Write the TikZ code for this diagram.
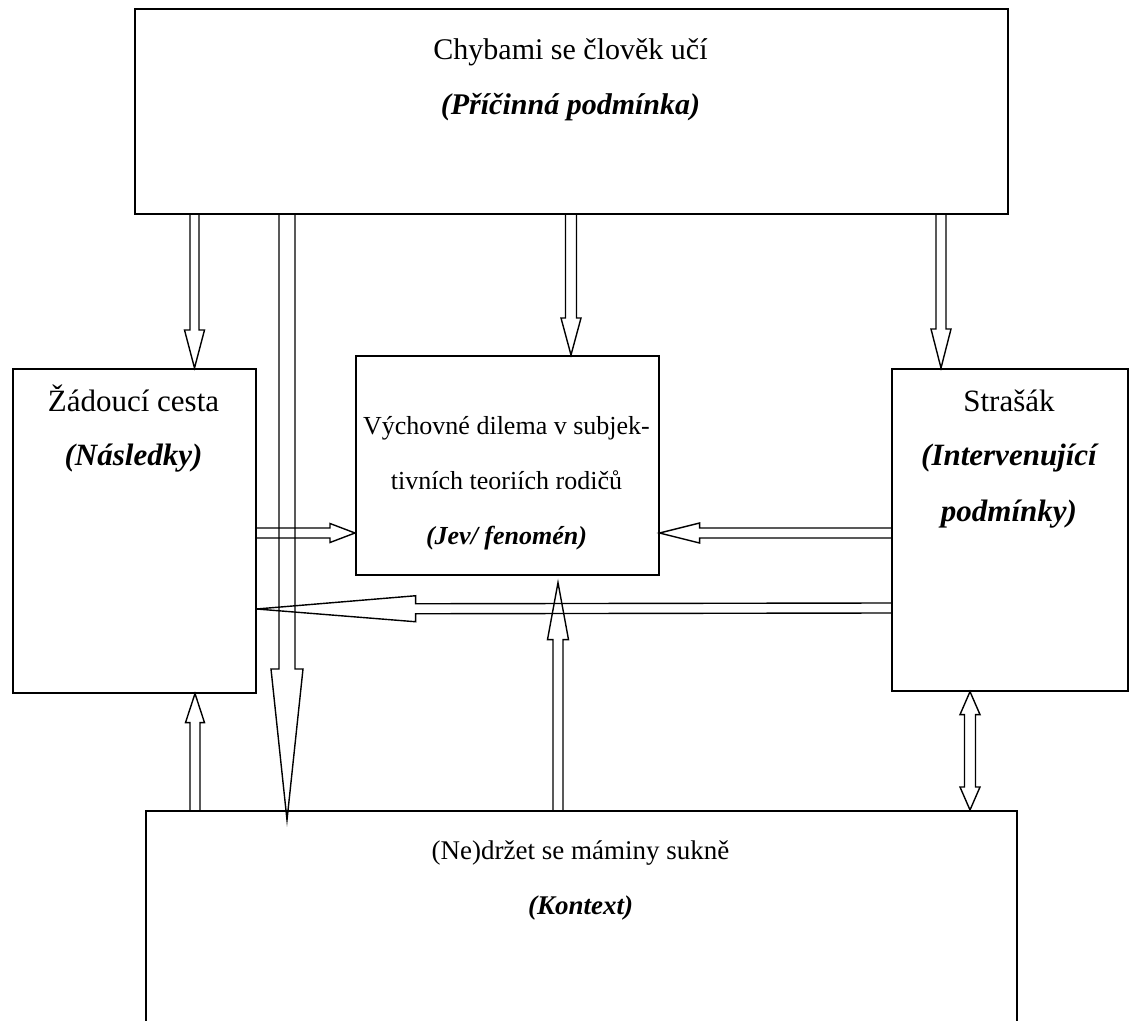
\documentclass[tikz,border=0pt]{standalone}
\usepackage{fontspec}
\setmainfont{Liberation Serif}
\usetikzlibrary{calc}

% hollow block arrow: from, tip, half shaft, half head, head length
\newcommand\blockarrow[5]{%
 \path (#1) coordinate (ba) (#2) coordinate (bb) ($(bb)!#5!(ba)$) coordinate (bh);
 \draw[blockline] ($(ba)!#3!90:(bb)$) -- ($(bh)!#3!90:(bb)$) -- ($(bh)!#4!90:(bb)$) -- (bb)
  -- ($(bh)!#4!-90:(bb)$) -- ($(bh)!#3!-90:(bb)$) -- ($(ba)!#3!-90:(bb)$);}
% same, with a head at both ends
\newcommand\twinarrow[5]{%
 \path (#1) coordinate (ba) (#2) coordinate (bb) ($(ba)!#5!(bb)$) coordinate (ha) ($(bb)!#5!(ba)$) coordinate (hb);
 \draw[blockline] (ba) -- ($(ha)!#4!90:(bb)$) -- ($(ha)!#3!90:(bb)$) -- ($(hb)!#3!90:(bb)$) -- ($(hb)!#4!90:(bb)$) -- (bb)
  -- ($(hb)!#4!-90:(bb)$) -- ($(hb)!#3!-90:(bb)$) -- ($(ha)!#3!-90:(bb)$) -- ($(ha)!#4!-90:(bb)$) -- cycle;}

\begin{document}
\begin{tikzpicture}[x=.5pt,y=-.5pt,
 frame/.style={draw,line width=.8pt,anchor=north west,inner sep=0pt},
 txt/.style={anchor=base,inner sep=0pt,font=\fontsize{#1}{#1}\selectfont},
 txt/.default=15.5,
 tag/.style={anchor=base,inner sep=0pt,font=\fontsize{#1}{#1}\selectfont\bfseries\itshape},
 tag/.default=15.5,
 blockline/.style={line width=.7pt,line join=miter}]
\useasboundingbox (0,0) rectangle (1129,1021);
\clip (0,0) rectangle (1129,1021);

\node[frame,minimum width=436.5pt,minimum height=102.5pt] (caus) at (134,8) {};
\node[frame,minimum width=121.5pt,minimum height=162pt] (cons) at (12,368) {};
\node[frame,minimum width=151.5pt,minimum height=109.5pt] (phen) at (355,355) {};
\node[frame,minimum width=118pt,minimum height=161pt] (interv) at (891,368) {};
\node[frame,minimum width=435.5pt,minimum height=130pt] (ctx) at (145,810) {};

\node[txt=15] (causA) at (570.5,60) {Chybami se člověk učí};
\node[tag=15] (causB) at (570.5,115) {(Příčinná podmínka)};
\node[txt] (consA) at (133.5,411) {Žádoucí cesta};
\node[tag] (consB) at (133.5,466) {(Následky)};
\node[txt=13] (phenA) at (506.5,434) {Výchovné dilema v subjek-};
\node[txt=13] (phenB) at (506.5,489) {tivních teoriích rodičů};
\node[tag=13] (phenC) at (506.5,544) {(Jev/ fenomén)};
\node[txt] (intervA) at (1009,411) {Strašák};
\node[tag] (intervB) at (1009,466) {(Intervenující};
\node[tag] (intervC) at (1009,521) {podmínky)};
\node[txt=13.5] (ctxA) at (580.5,859) {(Ne)držet se máminy sukně};
\node[tag=13.5] (ctxB) at (580.5,914) {(Kontext)};

\blockarrow{194.5,0 |- caus.south}{194.5,0 |- cons.north}{2.25pt}{5pt}{19pt}
\blockarrow{287,0 |- caus.south}{$(287,0 |- ctx.north)+(0,10)$}{4pt}{8pt}{75.5pt}
\blockarrow{571,0 |- caus.south}{571,0 |- phen.north}{2.75pt}{5pt}{18.5pt}
\blockarrow{941,0 |- caus.south}{941,0 |- interv.north}{2.5pt}{5pt}{19.5pt}
\blockarrow{cons.east |- 0,533}{phen.west |- 0,533}{2.5pt}{4.75pt}{12.5pt}
\blockarrow{interv.west |- 0,533}{phen.east |- 0,533}{2.5pt}{5pt}{20pt}
\blockarrow{interv.west |- 0,608}{cons.east |- 0,609}{2.5pt}{6.5pt}{79.5pt}
\blockarrow{558,0 |- ctx.north}{$(558,0 |- phen.south)+(0,7)$}{2.5pt}{5.25pt}{28.5pt}
\blockarrow{195,0 |- ctx.north}{195,0 |- cons.south}{2.5pt}{4.75pt}{14.5pt}
\twinarrow{970,0 |- interv.south}{970,0 |- ctx.north}{2.75pt}{5pt}{11.5pt}
\end{tikzpicture}
\end{document}
